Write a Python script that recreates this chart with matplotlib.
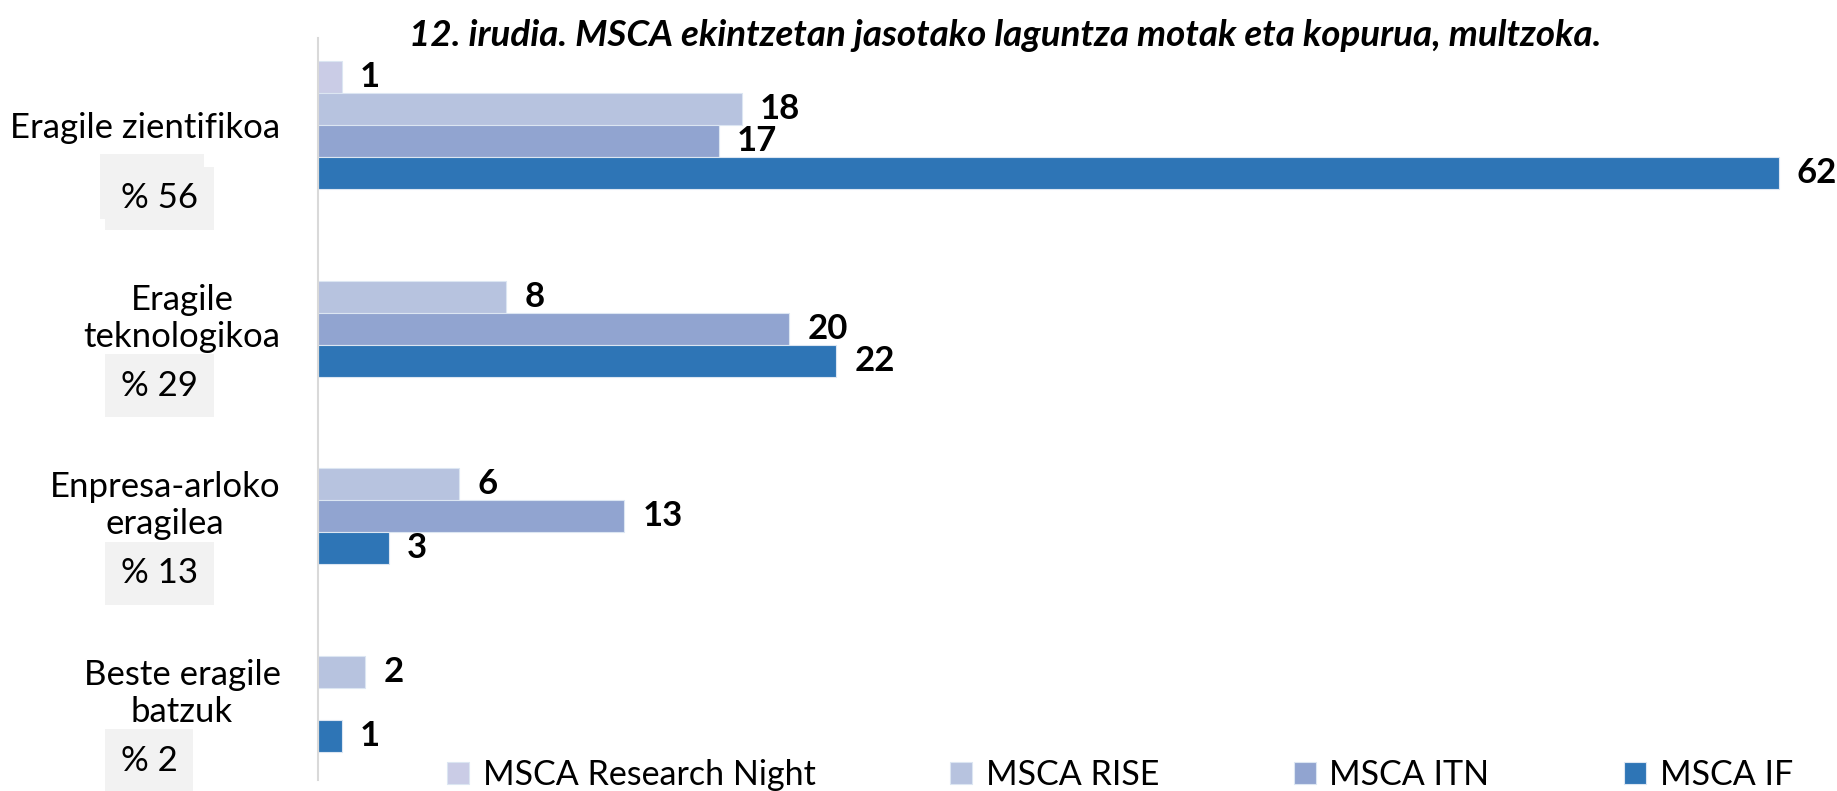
import matplotlib
matplotlib.use("Agg")
import matplotlib.pyplot as plt
import matplotlib.transforms as mtransforms
from matplotlib.patches import Rectangle
import numpy as np

plt.rcParams["font.family"] = ["Lato", "DejaVu Sans"]

title = "12. irudia. MSCA ekintzetan jasotako laguntza motak eta kopurua, multzoka."
categories = ["Eragile zientifikoa", "Eragile\nteknologikoa", "Enpresa-arloko\neragilea", "Beste eragile\nbatzuk"]
shares = [56, 29, 13, 2]
series_names = ["MSCA Research Night", "MSCA RISE", "MSCA ITN", "MSCA IF"]
research_night = [1, 0, 0, 0]
rise = [18, 8, 6, 2]
itn = [17, 20, 13, 0]
msca_if = [62, 22, 3, 1]
series_values = [research_night, rise, itn, msca_if]
colors = ["#CACCE6", "#B7C3DF", "#91A4D0", "#2E75B6"]

W, H = 1837, 791
fig = plt.figure(figsize=(W / 100, H / 100), dpi=100)
ax = fig.add_axes([318 / W, 11 / H, 1519 / W, 742 / H])

bar_h = 32 / 187.5
y_centers = np.arange(len(categories))
handles = []
for k, (name, vals, col) in enumerate(zip(series_names, series_values, colors)):
    vals = np.array(vals, dtype=float)
    ys = y_centers + (k - 1.5) * bar_h
    mask = vals > 0
    bars = ax.barh(ys[mask], vals[mask], height=bar_h, color=col,
                   edgecolor="#DCE6F2", linewidth=0.8, label=name)
    handles.append(bars)
    for y, v in zip(ys[mask], vals[mask]):
        ax.annotate(f"{int(v)}", xy=(v, y), xytext=(13, 0), textcoords="offset points",
                    ha="left", va="center", fontsize=25, fontweight="bold", color="black",
                    annotation_clip=False)

ax.set_xlim(0, 1519 / 23.56)
ax.set_ylim((780 - 125) / 187.5, -(125 - 38) / 187.5)
ax.set_xticks([])
ax.set_yticks(y_centers)
ax.set_yticklabels(categories, fontsize=25, linespacing=1.2)
for lab in ax.get_yticklabels():
    lab.set_multialignment("center")
ax.tick_params(axis="y", length=0, pad=27)
for s in ["top", "right", "bottom"]:
    ax.spines[s].set_visible(False)
ax.spines["left"].set_color("#D9D9D9")
ax.spines["left"].set_linewidth(1.5)

# percentage boxes under the category labels
trans = mtransforms.blended_transform_factory(ax.transAxes, ax.transData)
# the first box has a second, offset grey patch behind it
ax.add_patch(Rectangle((-218 / 1519, y_centers[0] + 0.155), 104 / 1519, 0.347,
                       transform=trans, facecolor="#F2F2F2", edgecolor="none", clip_on=False))
for i, p in enumerate(shares):
    ax.text(-197 / 1519, y_centers[i] + 0.39, f"% {p}", transform=trans,
            fontsize=25, ha="left", va="center", color="black",
            bbox=dict(boxstyle="square,pad=0.45", facecolor="#F2F2F2", edgecolor="none"), clip_on=False)

fig.text(1005 / W, 1 - 35 / H, title, ha="center", va="center", fontsize=26.5,
         fontweight="bold", fontstyle="italic")

fig.legend(handles=handles, labels=series_names, loc="center", bbox_to_anchor=(1120 / W, 1 - 775 / H),
           ncol=4, frameon=False, fontsize=24.5, handlelength=0.65, handleheight=0.65,
           handletextpad=0.4, columnspacing=3.95, borderaxespad=0)

fig.savefig("out.png", dpi=100)
